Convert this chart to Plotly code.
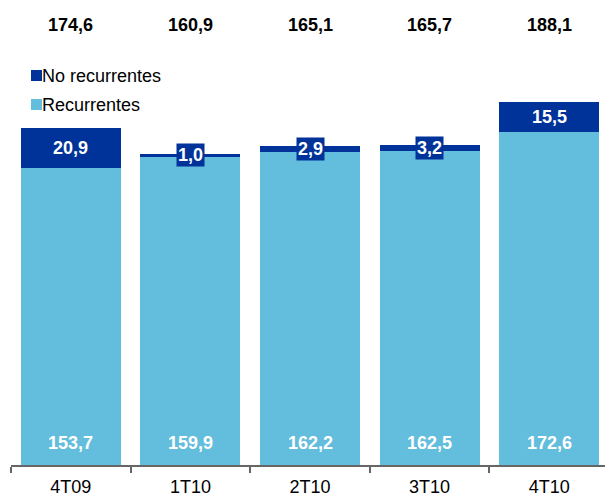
import plotly.graph_objects as go

categories = ["4T09", "1T10", "2T10", "3T10", "4T10"]
recurrentes = [153.7, 159.9, 162.2, 162.5, 172.6]
no_recurrentes = [20.9, 1.0, 2.9, 3.2, 15.5]
totales = [174.6, 160.9, 165.1, 165.7, 188.1]

DARK = "#003399"
LIGHT = "#63BDDC"
FONT = "Liberation Sans, Arial, sans-serif"

W, H = 605, 499
ML, MR, MT, MB = 11, 0, 0, 34
plot_w = W - ML - MR
plot_h = H - MT - MB
cat_w = 119.6
px_per_unit = 1.93
x_range = [-0.5, -0.5 + plot_w / cat_w]
y_range = [0, plot_h / px_per_unit]


def fmt(v):
    return f"{v:.1f}".replace(".", ",")


def px_x(px):
    return (px - ML) / plot_w


def px_y(py):
    return (H - MB - py) / plot_h


fig = go.Figure()
fig.add_trace(go.Bar(x=categories, y=recurrentes, name="Recurrentes",
                     marker=dict(color=LIGHT, line=dict(width=0))))
fig.add_trace(go.Bar(x=categories, y=no_recurrentes, name="No recurrentes",
                     marker=dict(color=DARK, line=dict(width=0))))

annotations = []
for c, r, n, t in zip(categories, recurrentes, no_recurrentes, totales):
    annotations.append(dict(x=c, y=0, yshift=22, text=fmt(r), showarrow=False,
                            yanchor="middle",
                            font=dict(family=FONT, size=18, color="white", weight="bold")))
    annotations.append(dict(x=c, y=r + n / 2, text=fmt(n), showarrow=False,
                            yanchor="middle", bgcolor=DARK, borderpad=1,
                            font=dict(family=FONT, size=18, color="white", weight="bold")))
    annotations.append(dict(x=c, xref="x", y=px_y(25), yref="paper", text=fmt(t),
                            showarrow=False, yanchor="middle",
                            font=dict(family=FONT, size=18, color="black", weight="bold")))

legend_items = [("No recurrentes", DARK, 75.5), ("Recurrentes", LIGHT, 104.5)]
shapes = []
for name, col, cy in legend_items:
    shapes.append(dict(type="rect", xref="paper", yref="paper",
                       x0=px_x(31), x1=px_x(42), y0=px_y(cy - 5.5), y1=px_y(cy + 5.5),
                       fillcolor=col, line=dict(width=0)))
    annotations.append(dict(x=px_x(40), xref="paper", y=px_y(cy), yref="paper",
                            text=name, showarrow=False, xanchor="left", yanchor="middle",
                            font=dict(family=FONT, size=18, color="black")))

fig.update_layout(
    width=W, height=H,
    margin=dict(l=ML, r=MR, t=MT, b=MB, pad=0, autoexpand=False),
    barmode="stack", bargap=1 - 100 / cat_w,
    plot_bgcolor="white", paper_bgcolor="white",
    showlegend=False,
    annotations=annotations, shapes=shapes,
    font=dict(family=FONT, size=18, color="black"),
    xaxis=dict(range=x_range, showline=True, linecolor="#666666", linewidth=1.5,
               ticks="outside", tickson="boundaries", ticklen=6, tickcolor="#666666",
               tickwidth=1.5, tickfont=dict(family=FONT, size=18, color="black"),
               showgrid=False, zeroline=False, ticklabelstandoff=5, automargin=False),
    yaxis=dict(range=y_range, visible=False, showgrid=False, zeroline=False,
               automargin=False),
)

fig.write_html("out.html", config={"displayModeBar": False},
               post_script="document.body.style.margin='0';document.body.style.overflow='hidden';")
